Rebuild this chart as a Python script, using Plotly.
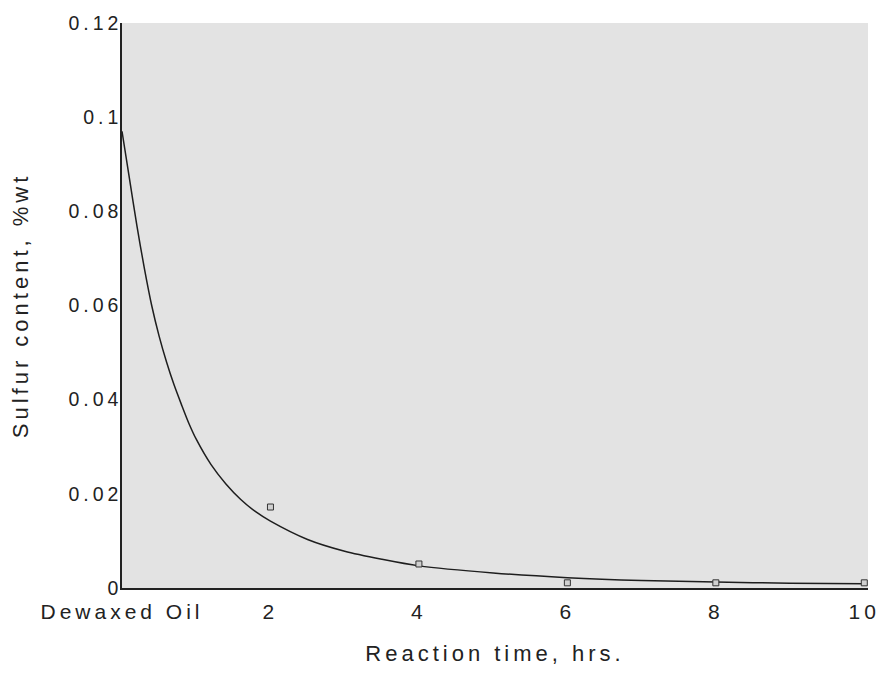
import plotly.graph_objects as go

# Measured sample points (reaction time, hrs / sulfur %wt)
sample_time = [2, 4, 6, 8, 10]
sample_sulfur = [0.0172, 0.0051, 0.0011, 0.0011, 0.0011]

# Fitted curve
curve_time = [0, 0.1, 0.2, 0.3, 0.4, 0.5, 0.6, 0.7, 0.8, 0.9, 1.0, 1.2, 1.4, 1.6,
              1.8, 2.0, 2.5, 3.0, 3.5, 4.0, 5.0, 6.0, 7.0, 8.0, 9.0, 10.0]
curve_sulfur = [0.097, 0.087, 0.077, 0.068, 0.060, 0.0535, 0.048, 0.0432, 0.039,
                0.035, 0.0316, 0.0262, 0.0221, 0.0188, 0.0162, 0.0142, 0.0103,
                0.0078, 0.0061, 0.0047, 0.0032, 0.0022, 0.0016, 0.0013, 0.0010,
                0.0009]

x_tickvals = [0, 2, 4, 6, 8, 10]
x_ticktext = ["Dewaxed Oil", "2", "4", "6", "8", "10"]
y_tickvals = [0, 0.02, 0.04, 0.06, 0.08, 0.1, 0.12]
y_ticktext = ["0", "0.02", "0.04", "0.06", "0.08", "0.1", "0.12"]

FONT = "Liberation Sans, Arial, sans-serif"
TXT = "#222222"

fig = go.Figure()
fig.add_trace(go.Scatter(
    x=curve_time, y=curve_sulfur, mode="lines",
    line=dict(color="#1e1e1e", width=1.5, shape="spline", smoothing=0.8),
    hoverinfo="skip", showlegend=False))
fig.add_trace(go.Scatter(
    x=sample_time, y=sample_sulfur, mode="markers",
    marker=dict(symbol="square", size=6, color="#d0d0d0",
                line=dict(color="#333333", width=1)),
    showlegend=False))

fig.update_layout(
    width=888, height=677,
    margin=dict(l=122, r=15, t=20, b=89),
    paper_bgcolor="white",
    plot_bgcolor="#e3e3e3",
    font=dict(family=FONT, color=TXT),
    xaxis=dict(
        range=[0, 10.05], showgrid=False, zeroline=False,
        showline=True, linecolor="#222", linewidth=1.5,
        tickvals=x_tickvals, ticktext=x_ticktext,
        ticks="", ticklabelstandoff=4,
        tickfont=dict(size=21, family=FONT, color=TXT),
        title=dict(text="Reaction time, hrs.", font=dict(size=22, family=FONT, color=TXT),
                   standoff=24),
    ),
    yaxis=dict(
        range=[0, 0.12], showgrid=False, zeroline=False,
        showline=True, linecolor="#222", linewidth=1.5,
        tickvals=y_tickvals, ticktext=y_ticktext,
        ticks="", ticklabelstandoff=-6,
        tickfont=dict(size=19.5, family=FONT, color=TXT),
        title=dict(text="Sulfur content, %wt", font=dict(size=22, family=FONT, color=TXT),
                   standoff=50),
    ),
)

post = """
document.body.style.margin = '0';
document.body.style.padding = '0';
var gd = document.getElementById('{plot_id}');
function spaceText(){
  gd.querySelectorAll('.xtick text, .ytick text, .g-xtitle text, .g-ytitle text').forEach(function(t){
    t.style.letterSpacing = '4px';
  });
}
spaceText();
gd.on('plotly_afterplot', spaceText);
"""

fig.write_html("out.html", post_script=post, config={"displayModeBar": False})
